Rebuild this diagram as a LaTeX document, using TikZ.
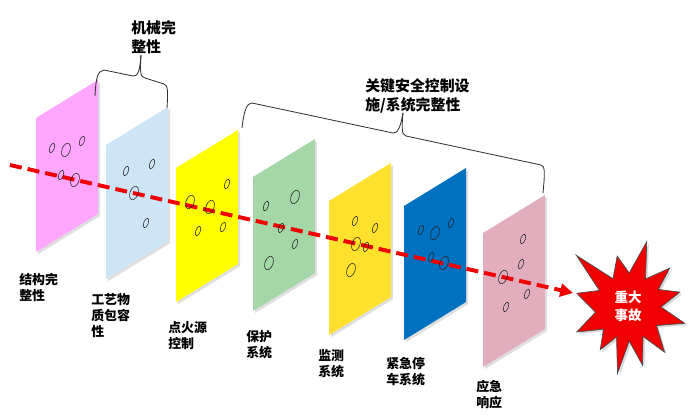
\documentclass[tikz,border=0pt]{standalone}
\usepackage{fontspec}
\newfontfamily\cjk{Noto Sans CJK SC}
\usetikzlibrary{arrows.meta,shadows}
\definecolor{plateA}{HTML}{FFA6FF}
\definecolor{plateB}{HTML}{CCE5F7}
\definecolor{plateC}{HTML}{FFFF00}
\definecolor{plateD}{HTML}{A4D6A8}
\definecolor{plateE}{HTML}{FFE12E}
\definecolor{plateF}{HTML}{0070C0}
\definecolor{plateG}{HTML}{E2AEBE}
\definecolor{blast}{HTML}{F00000}
\begin{document}
\begin{tikzpicture}[x=0.025cm,y=-0.025cm,
 plate/.style={drop shadow={shadow xshift=1.5pt,shadow yshift=-1.5pt,opacity=0.25}},
 hole/.style={draw=black!85,line width=0.4pt},
 ray/.style={blast,line width=2.8pt,dash pattern=on 0.3cm off 0.15cm,-{Triangle[length=0.32cm,width=0.32cm]}},
 brace/.style={draw=black!80,line width=0.6pt},
 lbl/.style={anchor=north west,inner sep=0pt,align=left,font=\cjk\bfseries\fontsize{9.2}{11.4}\selectfont},
 toplbl/.style={lbl,font=\cjk\bfseries\fontsize{10.6}{13.5}\selectfont},
 startext/.style={inner sep=0pt,align=center,text=white,font=\cjk\bfseries\fontsize{9.6}{12.8}\selectfont}]
\useasboundingbox (0,0) rectangle (697,415);
% 防护层
\foreach \x/\y/\c in {36/118/plateA,106/145/plateB,176/168/plateC,253/177/plateD,329/201/plateE,404/206/plateF,483/233/plateG}
 \fill[\c,plate] (\x,\y) -- ++(62,-38) -- ++(0,134) -- ++(-62,38) -- cycle;
% 事故路径
\coordinate (src) at (10,165);
\coordinate (tip) at (573,293);
\draw[ray] (src) -- (tip);
% 孔洞
\foreach \x/\y/\a/\b in {52/148/2.3/5,66/150/4/7,82/141/2.3/5,61/175/2.3/5,75/180/4/7,
 126/171/2.3/5,152/164/2.3/5,134/193/4/7,146/223/2.3/5,
 227/184/2.3/5,190/202/4/7,210/207/4/7,198/231/2.3/5,223/227/2.3/5,
 295/197/4/7,266/206/2.3/5,281/228/2.3/5,295/244/2.3/5,269/263/4/7,
 355/221/2.3/5,375/228/2.3/5,356/244/4/7,366/247/2.3/5,351/270/4/7,
 421/230/2.3/5,435/233/4/7,451/223/2.3/5,431/257/2.3/5,444/263/4/7,
 523/239/2.3/5,521/264/2.3/5,503/277/4/7,527/294/2.3/5,506/307/2.3/5}
 \draw[hole,rotate around={-20:(\x,\y)}] (\x,\y) ellipse [x radius=\a,y radius=\b];
% 大括号
\coordinate (tipM) at (141,55);
\draw[brace] (95,96) .. controls (96,76) and (98,71) .. (104,70) -- (133,76) .. controls (138,77) and (140,70) .. (tipM);
\draw[brace] (tipM) .. controls (140,72) and (140,77) .. (145,78) -- (164,84) .. controls (168,85) and (168,92) .. (167,108);
\coordinate (tipK) at (403,113);
\draw[brace] (242,128) .. controls (244,110) and (247,103) .. (252,103) -- (393,133) .. controls (398,134) and (401,125) .. (tipK);
\draw[brace] (tipK) .. controls (402,125) and (401,135) .. (406,136) -- (541,165) .. controls (545,166) and (545,172) .. (543,193);
% 爆炸
\fill[blast,draw=black!70,line width=0.5pt,drop shadow={shadow xshift=1.5pt,shadow yshift=-1.5pt,opacity=0.3}] (628,307) +(-165:53) -- +(-150:33) -- +(-135:73) -- +(-118:32) -- +(-102:52) -- +(-88:34) -- +(-74:68) -- +(-58:33) -- +(-43:57) -- +(-30:35) -- +(-16:54) -- +(0:33) -- +(16:59) -- +(33:34) -- +(51:58) -- +(63:33) -- +(76:60) -- +(88:34) -- +(99:67) -- +(111:32) -- +(123:51) -- +(138:33) -- +(154:57) -- +(171:33) -- cycle;
\node[startext] (accident) at (628,306) {重大\\事故};
% 标签
\node[toplbl] (lblM) at (131,20) {机械完\\整性};
\node[toplbl] (lblK) at (365,78) {关键安全控制设\\施/系统完整性};
\node[lbl] (lblA) at (19,273) {结构完\\整性};
\node[lbl] (lblB) at (91,293) {工艺物\\质包容\\性};
\node[lbl] (lblC) at (168,321) {点火源\\控制};
\node[lbl] (lblD) at (246,330) {保护\\系统};
\node[lbl] (lblE) at (318,349) {监测\\系统};
\node[lbl] (lblF) at (386,357) {紧急停\\车系统};
\node[lbl] (lblG) at (476,380) {应急\\响应};
\end{tikzpicture}
\end{document}
